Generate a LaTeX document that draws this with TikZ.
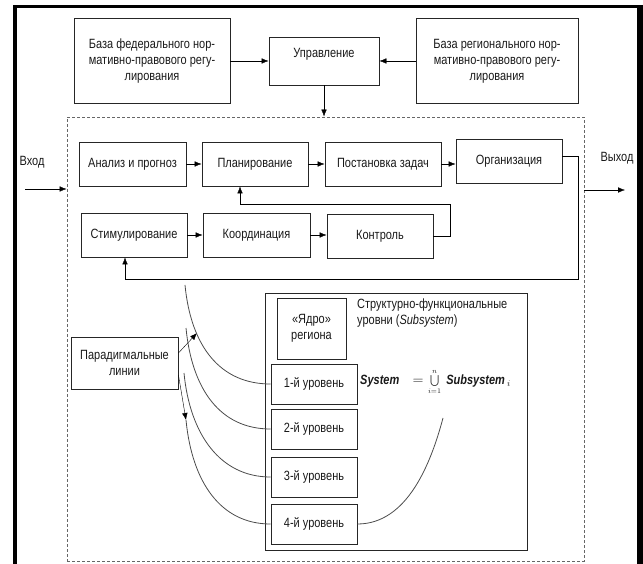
\documentclass[tikz,border=0pt]{standalone}
\usepackage{fontspec}
\setmainfont{Liberation Sans}[FakeStretch=0.82]
\usepackage{amsmath}
\usepackage{tikz}
\usetikzlibrary{positioning, arrows.meta, calc}

\begin{document}
\begin{tikzpicture}[x=1pt, y=-1pt, >={Latex[length=7pt, width=5.5pt]},
		box/.style={draw=black!85, line width=0.9pt, inner sep=2pt, align=center, text=black!90, font=\fontsize{13.4}{16}\selectfont},
		txt/.style={inner sep=1pt, text=black!90, font=\fontsize{13.4}{16}\selectfont},
		sysframe/.style={draw=black!60, line width=0.9pt, dash pattern=on 3pt off 2pt},
		curve/.style={draw=black!70, line width=0.8pt}]
	\useasboundingbox (0, 0) rectangle (643, 564);
	
	% outer frame
	\draw[line width=4pt] (15, 564) -- (15, 5);
	\draw[line width=3pt] (13, 6.5) -- (643, 6.5);
	\draw[line width=6pt] (640, 5) -- (640, 564);
	
	% top row
	\node[box, minimum width=156pt, minimum height=85pt] at (152, 61) (fed) {База федерального нор-\\мативно-правового регу-\\лирования};
	\node[box, minimum width=110pt, minimum height=48pt, text depth=17pt] at (324, 61) (upr) {Управление};
	\node[box, minimum width=162pt, minimum height=85pt] at (497, 61) (reg) {База регионального нор-\\мативно-правового регу-\\лирования};
	
	\node[sysframe, minimum width=517pt, minimum height=444pt] at (325.5, 339) (sys) {};
	
	\draw[->] (fed) -- (upr);
	\draw[->] (reg) -- (upr);
	\draw[->] (upr) -- (upr |- sys.north);
	
	% input / output
	\node[txt] at (32, 162) (vhod) {Вход};
	\node[txt] at (617, 158) (vyhod) {Выход};
	\coordinate (vhodL) at (25, 189);
	\coordinate (vyhodR) at (625, 190);
	\draw[->] (vhodL) -- (vhodL -| sys.west);
	\draw[->] (vyhodR -| sys.east) -- (vyhodR);
	
	% functions
	\node[box, minimum width=107pt, minimum height=44pt] at (132.5, 164) (an) {Анализ и прогноз};
	\node[box, minimum width=106pt, minimum height=44pt] at (255, 164) (plan) {Планирование};
	\node[box, minimum width=116pt, minimum height=44pt] at (383, 164) (post) {Постановка задач};
	\node[box, minimum width=106pt, minimum height=44pt] at (509, 161) (org) {Организация};
	\node[box, minimum width=106pt, minimum height=44pt] at (134, 235) (stim) {Стимулирование};
	\node[box, minimum width=107pt, minimum height=44pt] at (256.5, 235) (koord) {Координация};
	\node[box, minimum width=106pt, minimum height=44pt] at (380, 236) (kontr) {Контроль};
	
	\draw[->] (an) -- (plan);
	\draw[->] (plan) -- (post);
	\draw[->] (post.east) -- (post.east -| org.west);
	\draw[->] (stim) -- (koord);
	\draw[->] (koord.east) -- (koord.east -| kontr.west);
	
	\coordinate (fbOrg) at (578, 279);
	\coordinate (fbKontr) at (450, 204);
	\draw[->] ([yshift=5pt]org.east) -| (fbOrg) -| ([xshift=-9pt]stim.south);
	\draw[->] (kontr.east) -| (fbKontr) -| ([xshift=-15pt]plan.south);
	
	% region
	\node[box, minimum width=262pt, minimum height=257pt] at (396, 421.5) (region) {};
	\node[box, minimum width=69pt, minimum height=61pt] at (311.5, 328.5) (yadro) {«Ядро»\\региона};
	\node[txt, anchor=north west, align=left] at (356, 298) (struct) {Структурно-функциональные\\ уровни (\textit{Subsystem})};
	\foreach \n/\y in {1/384, 2/429, 3/477, 4/524}
		\node[box, minimum width=86pt, minimum height=40pt] at (314, \y) (lev\n) {\n-й уровень};
	\node[txt, anchor=west] at (359, 382) (formula) {\textbf{\textit{System}}\quad$=$\,\,{\fontsize{10.5}{12}\selectfont$\bigcup\limits_{i=1}^{n}$}\, \textbf{\textit{Subsystem}}\,$_i$};
	
	\node[box, minimum width=107pt, minimum height=52pt] at (124.5, 363) (parad) {Парадигмальные\\линии};
	\coordinate (pUp) at (197, 333);
	\coordinate (pDown) at (186, 420);
	\draw[->] ([yshift=10pt]parad.east) -- (pUp);
	\draw[->] ([yshift=-12pt]parad.east) -- (pDown);
	
	\coordinate (arc1) at (185, 285);
	\coordinate (arc2) at (186, 328);
	\coordinate (arc3) at (184, 373);
	\coordinate (arc4) at (186, 420);
	\foreach \n in {1, 2, 3, 4}
		\draw[curve] (arc\n) .. controls +(6, 62) and +(-50, 0) .. (lev\n.west);
	\coordinate (arcTop) at (443, 418);
	\draw[curve] (lev4.east) .. controls +(50, 0) and +(-12, 45) .. (arcTop);
\end{tikzpicture}
\end{document}
